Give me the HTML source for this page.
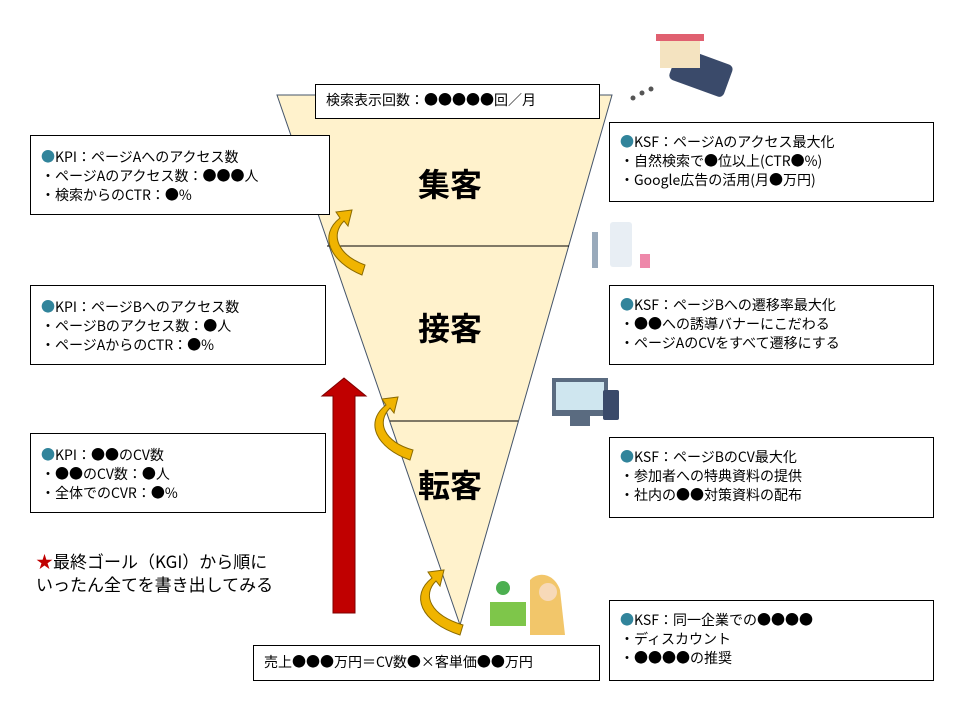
<!DOCTYPE html>
<html><head><meta charset="utf-8"><style>
body{margin:0;width:960px;height:720px;background:#fff;overflow:hidden;font-family:"Noto Sans CJK JP","Liberation Sans",sans-serif;}
.b{position:absolute;background:#fff;border:1px solid #000;box-sizing:border-box;font-size:14px;line-height:19px;color:#000;padding:12px 0 0 10px;white-space:nowrap}
.t{position:absolute;font-size:32px;font-weight:bold;line-height:36px}
.d{color:#31849b}
</style></head><body>
<svg width="960" height="720" style="position:absolute;left:0;top:0">
<polygon points="277,95 612,95 460,625" fill="#fff2cc" stroke="#44546a" stroke-width="1"/>
<line x1="327" y1="246" x2="569" y2="246" stroke="#000"/>
<line x1="390" y1="421" x2="518" y2="421" stroke="#000"/>
<polygon points="333,613 355,613 355,396 366,396 344,378 322,396 333,396" fill="#c00000" stroke="#7f0000"/>
<g fill="#f0b400" stroke="#8a6a00" stroke-width="1">
<path d="M362,275 C330,262 318,235 340,218 L336,212 L352,210 L348,226 L344,221 C330,235 338,255 365,265 Z"/>
<path d="M410,460 C376,448 364,422 386,405 L382,399 L398,397 L394,413 L390,408 C376,422 384,442 413,450 Z"/>
<path d="M460,635 C420,622 410,595 432,578 L428,572 L444,570 L440,586 L436,581 C422,595 430,615 463,625 Z"/>
</g>
<g>
<rect x="672" y="55" width="58" height="34" rx="5" fill="#3a4a6a" transform="rotate(20 700 72)"/>
<rect x="660" y="38" width="40" height="30" fill="#f4e3c0"/><rect x="656" y="34" width="48" height="7" fill="#e06070"/>
<circle cx="633" cy="98" r="2.5" fill="#555"/><circle cx="642" cy="93" r="2.5" fill="#555"/><circle cx="651" cy="89" r="2.5" fill="#555"/>
<rect x="610" y="222" width="22" height="45" rx="3" fill="#e8eef4"/><rect x="592" y="232" width="6" height="36" fill="#9ab"/><rect x="640" y="254" width="10" height="14" fill="#e8a"/>
<rect x="552" y="378" width="56" height="38" fill="#5a6b80"/><rect x="556" y="382" width="48" height="28" fill="#cfe6ef"/><rect x="570" y="416" width="20" height="10" fill="#5a6b80"/>
<rect x="603" y="390" width="16" height="30" rx="2" fill="#3a4a6a"/>
<circle cx="503" cy="588" r="7" fill="#4caf50"/>
<rect x="490" y="602" width="36" height="24" fill="#7ec64a"/><path d="M530,580 C540,570 555,575 560,590 L565,635 L530,635 Z" fill="#f2c66a"/>
<circle cx="548" cy="592" r="9" fill="#f7d9b8"/>
</g>
</svg>
<div class="b" style="left:315px;top:84px;width:285px;height:35px;padding:6px 0 0 10px">検索表示回数：●●●●●回／月</div>
<div class="b" style="left:253px;top:645px;width:347px;height:36px;padding:7px 0 0 10px">売上●●●万円＝CV数●×客単価●●万円</div>
<div class="t" style="left:418px;top:165px">集客</div>
<div class="t" style="left:418px;top:309px">接客</div>
<div class="t" style="left:418px;top:466px">転客</div>
<div class="b" style="left:30px;top:135px;width:300px;height:80px"><span class="d">●</span>KPI：ページAへのアクセス数<br>・ページAのアクセス数：●●●人<br>・検索からのCTR：●%</div>
<div class="b" style="left:30px;top:285px;width:296px;height:80px"><span class="d">●</span>KPI：ページBへのアクセス数<br>・ページBのアクセス数：●人<br>・ページAからのCTR：●%</div>
<div class="b" style="left:30px;top:433px;width:296px;height:80px"><span class="d">●</span>KPI：●●のCV数<br>・●●のCV数：●人<br>・全体でのCVR：●%</div>
<div class="b" style="left:609px;top:122px;width:325px;height:80px;padding-top:10px"><span class="d">●</span>KSF：ページAのアクセス最大化<br>・自然検索で●位以上(CTR●%)<br>・Google広告の活用(月●万円)</div>
<div class="b" style="left:609px;top:285px;width:325px;height:80px;padding-top:10px"><span class="d">●</span>KSF：ページBへの遷移率最大化<br>・●●への誘導バナーにこだわる<br>・ページAのCVをすべて遷移にする</div>
<div class="b" style="left:609px;top:437px;width:325px;height:81px;padding-top:10px"><span class="d">●</span>KSF：ページBのCV最大化<br>・参加者への特典資料の提供<br>・社内の●●対策資料の配布</div>
<div class="b" style="left:609px;top:600px;width:325px;height:81px;padding-top:10px"><span class="d">●</span>KSF：同一企業での●●●●<br>・ディスカウント<br>・●●●●の推奨</div>
<div style="position:absolute;left:36px;top:549px;font-size:17px;line-height:23px;white-space:nowrap"><span style="color:#c00000">★</span>最終ゴール（KGI）から順に<br>いったん全てを書き出してみる</div>
</body></html>
